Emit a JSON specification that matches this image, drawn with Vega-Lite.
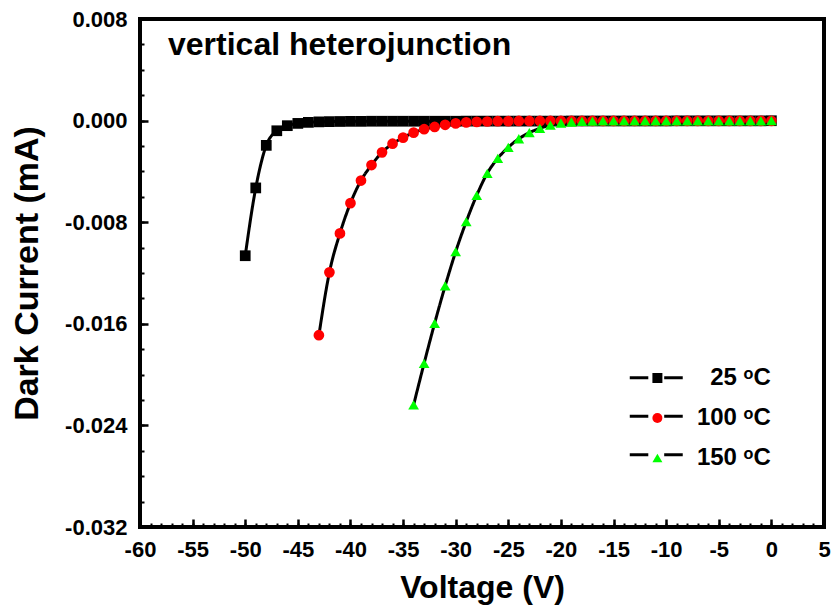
{
  "$schema": "https://vega.github.io/schema/vega-lite/v6.json",
  "width": 684,
  "height": 508,
  "autosize": {"type": "none"},
  "padding": {"left": 140, "top": 19, "right": 10, "bottom": 87},
  "background": "white",
  "title": {"text": "vertical heterojunction", "anchor": "start", "frame": "group", "offset": -54, "dx": 28, "font": "Liberation Sans", "fontSize": 32, "fontWeight": "bold", "color": "black"},
  "config": {
    "view": {"stroke": "black", "strokeWidth": 4},
    "locale": {"number": {"decimal": ".", "thousands": ",", "grouping": [3], "currency": ["$", ""], "minus": "-"}},
    "axis": {"grid": false, "domain": false, "tickColor": "black", "labelColor": "black", "titleColor": "black", "labelFont": "Liberation Sans", "titleFont": "Liberation Sans", "labelFontWeight": "bold", "titleFontWeight": "bold"}
  },
  "data": {"values": [
    {"T": "25 ᵒC", "V": -50, "I": -0.01064},
    {"T": "25 ᵒC", "V": -49, "I": -0.0053},
    {"T": "25 ᵒC", "V": -48, "I": -0.00195},
    {"T": "25 ᵒC", "V": -47, "I": -0.0008},
    {"T": "25 ᵒC", "V": -46, "I": -0.0004},
    {"T": "25 ᵒC", "V": -45, "I": -0.00022},
    {"T": "25 ᵒC", "V": -44, "I": -0.00014},
    {"T": "25 ᵒC", "V": -43, "I": -0.0001},
    {"T": "25 ᵒC", "V": -42, "I": -0.00008},
    {"T": "25 ᵒC", "V": -41, "I": -0.00007},
    {"T": "25 ᵒC", "V": -40, "I": -0.00006},
    {"T": "25 ᵒC", "V": -39, "I": -0.00006},
    {"T": "25 ᵒC", "V": -38, "I": -0.00005},
    {"T": "25 ᵒC", "V": -37, "I": -0.00005},
    {"T": "25 ᵒC", "V": -36, "I": -0.00005},
    {"T": "25 ᵒC", "V": -35, "I": -0.00005},
    {"T": "25 ᵒC", "V": -34, "I": -0.00005},
    {"T": "25 ᵒC", "V": -33, "I": -0.00005},
    {"T": "25 ᵒC", "V": -32, "I": -0.00005},
    {"T": "25 ᵒC", "V": -31, "I": -0.00005},
    {"T": "25 ᵒC", "V": -30, "I": -0.00005},
    {"T": "25 ᵒC", "V": -29, "I": -0.00004},
    {"T": "25 ᵒC", "V": -28, "I": -0.00004},
    {"T": "25 ᵒC", "V": -27, "I": -0.00004},
    {"T": "25 ᵒC", "V": -26, "I": -0.00004},
    {"T": "25 ᵒC", "V": -25, "I": -0.00004},
    {"T": "25 ᵒC", "V": -24, "I": -0.00004},
    {"T": "25 ᵒC", "V": -23, "I": -0.00004},
    {"T": "25 ᵒC", "V": -22, "I": -0.00004},
    {"T": "25 ᵒC", "V": -21, "I": -0.00004},
    {"T": "25 ᵒC", "V": -20, "I": -0.00004},
    {"T": "25 ᵒC", "V": -19, "I": -0.00003},
    {"T": "25 ᵒC", "V": -18, "I": -0.00003},
    {"T": "25 ᵒC", "V": -17, "I": -0.00003},
    {"T": "25 ᵒC", "V": -16, "I": -0.00003},
    {"T": "25 ᵒC", "V": -15, "I": -0.00003},
    {"T": "25 ᵒC", "V": -14, "I": -0.00003},
    {"T": "25 ᵒC", "V": -13, "I": -0.00003},
    {"T": "25 ᵒC", "V": -12, "I": -0.00003},
    {"T": "25 ᵒC", "V": -11, "I": -0.00003},
    {"T": "25 ᵒC", "V": -10, "I": -0.00003},
    {"T": "25 ᵒC", "V": -9, "I": -0.00002},
    {"T": "25 ᵒC", "V": -8, "I": -0.00002},
    {"T": "25 ᵒC", "V": -7, "I": -0.00002},
    {"T": "25 ᵒC", "V": -6, "I": -0.00002},
    {"T": "25 ᵒC", "V": -5, "I": -0.00002},
    {"T": "25 ᵒC", "V": -4, "I": -0.00002},
    {"T": "25 ᵒC", "V": -3, "I": -0.00002},
    {"T": "25 ᵒC", "V": -2, "I": -0.00002},
    {"T": "25 ᵒC", "V": -1, "I": -0.00002},
    {"T": "25 ᵒC", "V": 0, "I": -0.00001},
    {"T": "100 ᵒC", "V": -43, "I": -0.0169},
    {"T": "100 ᵒC", "V": -42, "I": -0.01195},
    {"T": "100 ᵒC", "V": -41, "I": -0.00888},
    {"T": "100 ᵒC", "V": -40, "I": -0.0065},
    {"T": "100 ᵒC", "V": -39, "I": -0.00472},
    {"T": "100 ᵒC", "V": -38, "I": -0.0035},
    {"T": "100 ᵒC", "V": -37, "I": -0.0025},
    {"T": "100 ᵒC", "V": -36, "I": -0.00182},
    {"T": "100 ᵒC", "V": -35, "I": -0.00134},
    {"T": "100 ᵒC", "V": -34, "I": -0.00095},
    {"T": "100 ᵒC", "V": -33, "I": -0.00068},
    {"T": "100 ᵒC", "V": -32, "I": -0.0005},
    {"T": "100 ᵒC", "V": -31, "I": -0.00033},
    {"T": "100 ᵒC", "V": -30, "I": -0.00022},
    {"T": "100 ᵒC", "V": -29, "I": -0.00014},
    {"T": "100 ᵒC", "V": -28, "I": -0.0001},
    {"T": "100 ᵒC", "V": -27, "I": -0.00007},
    {"T": "100 ᵒC", "V": -26, "I": -0.00005},
    {"T": "100 ᵒC", "V": -25, "I": -0.00004},
    {"T": "100 ᵒC", "V": -24, "I": -0.00003},
    {"T": "100 ᵒC", "V": -23, "I": -0.00003},
    {"T": "100 ᵒC", "V": -22, "I": -0.00003},
    {"T": "100 ᵒC", "V": -21, "I": -0.00003},
    {"T": "100 ᵒC", "V": -20, "I": -0.00003},
    {"T": "100 ᵒC", "V": -19, "I": -0.00003},
    {"T": "100 ᵒC", "V": -18, "I": -0.00003},
    {"T": "100 ᵒC", "V": -17, "I": -0.00003},
    {"T": "100 ᵒC", "V": -16, "I": -0.00003},
    {"T": "100 ᵒC", "V": -15, "I": -0.00003},
    {"T": "100 ᵒC", "V": -14, "I": -0.00003},
    {"T": "100 ᵒC", "V": -13, "I": -0.00003},
    {"T": "100 ᵒC", "V": -12, "I": -0.00003},
    {"T": "100 ᵒC", "V": -11, "I": -0.00003},
    {"T": "100 ᵒC", "V": -10, "I": -0.00003},
    {"T": "100 ᵒC", "V": -9, "I": -0.00002},
    {"T": "100 ᵒC", "V": -8, "I": -0.00002},
    {"T": "100 ᵒC", "V": -7, "I": -0.00002},
    {"T": "100 ᵒC", "V": -6, "I": -0.00002},
    {"T": "100 ᵒC", "V": -5, "I": -0.00002},
    {"T": "100 ᵒC", "V": -4, "I": -0.00002},
    {"T": "100 ᵒC", "V": -3, "I": -0.00002},
    {"T": "100 ᵒC", "V": -2, "I": -0.00002},
    {"T": "100 ᵒC", "V": -1, "I": -0.00002},
    {"T": "100 ᵒC", "V": 0, "I": -0.00002},
    {"T": "150 ᵒC", "V": -34, "I": -0.02239},
    {"T": "150 ᵒC", "V": -33, "I": -0.01911},
    {"T": "150 ᵒC", "V": -32, "I": -0.01596},
    {"T": "150 ᵒC", "V": -31, "I": -0.01302},
    {"T": "150 ᵒC", "V": -30, "I": -0.01032},
    {"T": "150 ᵒC", "V": -29, "I": -0.00796},
    {"T": "150 ᵒC", "V": -28, "I": -0.00588},
    {"T": "150 ᵒC", "V": -27, "I": -0.00415},
    {"T": "150 ᵒC", "V": -26, "I": -0.00297},
    {"T": "150 ᵒC", "V": -25, "I": -0.0021},
    {"T": "150 ᵒC", "V": -24, "I": -0.00143},
    {"T": "150 ᵒC", "V": -23, "I": -0.00095},
    {"T": "150 ᵒC", "V": -22, "I": -0.00061},
    {"T": "150 ᵒC", "V": -21, "I": -0.00035},
    {"T": "150 ᵒC", "V": -20, "I": -0.00019},
    {"T": "150 ᵒC", "V": -19, "I": -0.00011},
    {"T": "150 ᵒC", "V": -18, "I": -0.00006},
    {"T": "150 ᵒC", "V": -17, "I": -0.00004},
    {"T": "150 ᵒC", "V": -16, "I": -0.00002},
    {"T": "150 ᵒC", "V": -15, "I": -0.00002},
    {"T": "150 ᵒC", "V": -14, "I": -0.00002},
    {"T": "150 ᵒC", "V": -13, "I": -0.00002},
    {"T": "150 ᵒC", "V": -12, "I": -0.00002},
    {"T": "150 ᵒC", "V": -11, "I": -0.00002},
    {"T": "150 ᵒC", "V": -10, "I": -0.00002},
    {"T": "150 ᵒC", "V": -9, "I": -0.00002},
    {"T": "150 ᵒC", "V": -8, "I": -0.00002},
    {"T": "150 ᵒC", "V": -7, "I": -0.00002},
    {"T": "150 ᵒC", "V": -6, "I": -0.00002},
    {"T": "150 ᵒC", "V": -5, "I": -0.00002},
    {"T": "150 ᵒC", "V": -4, "I": -0.00002},
    {"T": "150 ᵒC", "V": -3, "I": -0.00002},
    {"T": "150 ᵒC", "V": -2, "I": -0.00002},
    {"T": "150 ᵒC", "V": -1, "I": -0.00002},
    {"T": "150 ᵒC", "V": 0, "I": -0.00001}
  ]},
  "resolve": {"axis": {"x": "independent", "y": "independent"}},
  "layer": [
    {
      "mark": {"type": "line", "color": "black", "strokeWidth": 3, "interpolate": "monotone"},
      "encoding": {
        "x": {"field": "V", "type": "quantitative", "scale": {"domain": [-60, 5], "nice": false, "zero": false},
          "axis": {"orient": "bottom", "offset": -8, "values": [-60, -55, -50, -45, -40, -35, -30, -25, -20, -15, -10, -5, 0, 5], "format": "d", "tickSize": 8, "tickWidth": 2.5, "labelFontSize": 22, "labelPadding": 12, "labelFlush": false, "labelOverlap": false, "title": "Voltage (V)", "titleFontSize": 32, "titlePadding": 12}},
        "y": {"field": "I", "type": "quantitative", "scale": {"domain": [-0.032, 0.008], "nice": false, "zero": false},
          "axis": {"orient": "left", "offset": -8, "values": [-0.032, -0.024, -0.016, -0.008, 0, 0.008], "format": ".3f", "tickSize": 8, "tickWidth": 2.5, "labelFontSize": 22, "labelPadding": 13, "labelFlush": false, "labelOverlap": false, "title": "Dark Current (mA)", "titleFontSize": 34, "titlePadding": 20}},
        "strokeDash": {"field": "T", "type": "nominal", "scale": {"range": [[1, 0], [1, 0], [1, 0]]},
          "legend": {"orient": "none", "legendX": 501.25, "legendY": 343.75, "title": null, "padding": 0, "symbolType": "M-2,0H-0.6M0.6,0H2", "symbolSize": 702, "symbolStrokeWidth": 3, "symbolStrokeColor": "black", "symbolFillColor": "transparent", "labelExpr": "''", "labelOffset": 0, "rowPadding": 17.5}}
      }
    },
    {
      "mark": {"type": "point", "filled": true, "opacity": 1, "strokeWidth": 0, "size": 115},
      "encoding": {
        "x": {"field": "V", "type": "quantitative",
          "axis": {"orient": "bottom", "offset": -4, "values": [-60, -59, -58, -57, -56, -55, -54, -53, -52, -51, -50, -49, -48, -47, -46, -45, -44, -43, -42, -41, -40, -39, -38, -37, -36, -35, -34, -33, -32, -31, -30, -29, -28, -27, -26, -25, -24, -23, -22, -21, -20, -19, -18, -17, -16, -15, -14, -13, -12, -11, -10, -9, -8, -7, -6, -5, -4, -3, -2, -1, 0, 1, 2, 3, 4, 5], "tickSize": 4, "tickWidth": 2, "labels": false, "title": null}},
        "y": {"field": "I", "type": "quantitative",
          "axis": {"orient": "left", "offset": -4, "values": [-0.032, -0.03, -0.028, -0.026, -0.024, -0.022, -0.02, -0.018, -0.016, -0.014, -0.012, -0.01, -0.008, -0.006, -0.004, -0.002, 0, 0.002, 0.004, 0.006, 0.008], "tickSize": 4, "tickWidth": 2, "labels": false, "title": null}},
        "color": {"field": "T", "type": "nominal", "scale": {"domain": ["25 ᵒC", "100 ᵒC", "150 ᵒC"], "range": ["#000000", "#ff0000", "#00ff00"]},
          "legend": {"orient": "none", "legendX": 505.4, "legendY": 347, "title": null, "padding": 0, "symbolStrokeWidth": 0, "symbolSize": 100, "labelFont": "Liberation Sans", "labelFontSize": 24, "labelFontWeight": "bold", "labelColor": "black", "labelAlign": "right", "labelOffset": 101.4, "rowPadding": 16}},
        "shape": {"field": "T", "type": "nominal", "scale": {"domain": ["25 ᵒC", "100 ᵒC", "150 ᵒC"], "range": ["square", "circle", "triangle-up"]}}
      }
    }
  ]
}
